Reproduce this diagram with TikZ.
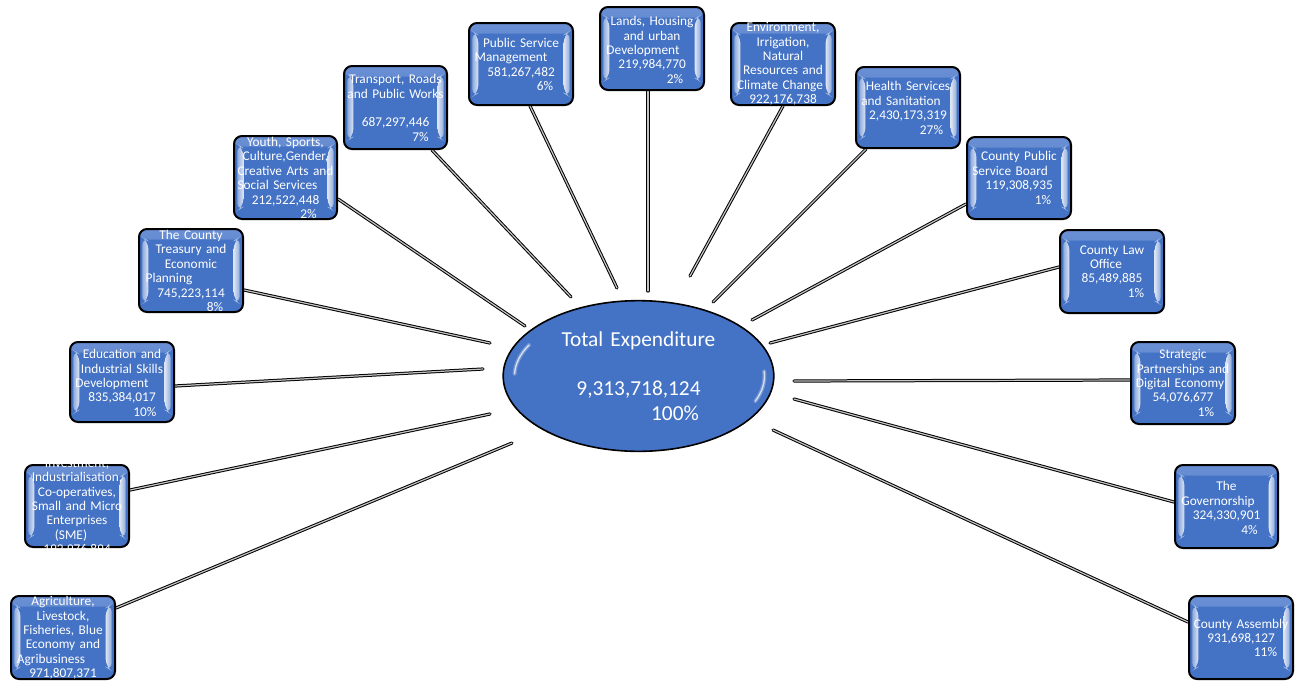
\documentclass[tikz,border=0pt]{standalone}
\usepackage{fontspec}
\setmainfont{Carlito}
\usetikzlibrary{shapes.geometric,calc,backgrounds}

\definecolor{boxblue}{HTML}{4472C4}
\definecolor{boxtop}{HTML}{6A8FD4}
\definecolor{linkgrey}{HTML}{C4C4C4}

% one centred line, moved sideways by #1 px
\newcommand\off[2]{\makebox[0pt]{\kern\dimexpr #1pt*3/2\relax #2}}

% department box: name, centre x, centre y, width, height, text centre y, text
\newcommand\dept[7]{%
  \node[deptbox, minimum width=#4*0.75pt, minimum height=#5*0.75pt] (#1) at (#2,#3) {};
  \begin{scope}
    \clip ([shift={(-3,-3)}]#1.north west) rectangle ([shift={(3,3)}]#1.south east);
    \node[depttext] (#1-text) at (#2,#6) {#7};
  \end{scope}}

\tikzset{
  deptbox/.style={draw=black, line width=1.5pt, rounded corners=6pt, fill=boxblue, inner sep=0pt,
    path picture={
      \shade[top color=boxtop, bottom color=boxblue]
        (path picture bounding box.north west) rectangle ([yshift=-8pt]path picture bounding box.north east);
      \shade[left color=boxblue!60!white, right color=white!82!boxblue]
        ([xshift=2.5pt,yshift=-6pt]path picture bounding box.north west) --
        ([xshift=7pt,yshift=-9pt]path picture bounding box.north west) --
        ([xshift=7pt,yshift=9pt]path picture bounding box.south west) --
        ([xshift=2.5pt,yshift=6pt]path picture bounding box.south west) -- cycle;
      \shade[right color=boxblue!60!white, left color=white!82!boxblue]
        ([xshift=-2.5pt,yshift=-6pt]path picture bounding box.north east) --
        ([xshift=-7pt,yshift=-9pt]path picture bounding box.north east) --
        ([xshift=-7pt,yshift=9pt]path picture bounding box.south east) --
        ([xshift=-2.5pt,yshift=6pt]path picture bounding box.south east) -- cycle;
    }},
  depttext/.style={text=white, font=\fontsize{10pt}{10.8pt}\selectfont, align=center,
    text width=110pt, inner sep=0pt},
  totalnode/.style={ellipse, draw=black, line width=1.2pt, fill=boxblue, inner sep=0pt,
    minimum width=203pt, minimum height=113pt},
  totaltext/.style={text=white, align=center, text width=180pt, inner sep=0pt,
    font=\fontsize{16pt}{18.4pt}\selectfont},
  gloss/.style={draw=white, line cap=round},
  link/.style={draw=black, line width=0.75pt, double=linkgrey, double distance=0.9pt, line cap=round},
}

\begin{document}
\begin{tikzpicture}[x=0.75pt, y=-0.75pt]
\useasboundingbox (0,0) rectangle (1297,683);

% centre
\node[totalnode] (total) at (638.5,376) {};
\draw[gloss, line width=3pt, opacity=.25] ($(total.center)+(182:124 and 66)$)
  arc[start angle=182, end angle=208, x radius=124, y radius=66];
\draw[gloss, line width=1pt, opacity=.7] ($(total.center)+(182:124 and 66)$)
  arc[start angle=182, end angle=208, x radius=124, y radius=66];
\draw[gloss, line width=3pt, opacity=.25] ($(total.center)+(-4:126 and 67)$)
  arc[start angle=-4, end angle=22, x radius=126, y radius=67];
\draw[gloss, line width=1pt, opacity=.7] ($(total.center)+(-4:126 and 67)$)
  arc[start angle=-4, end angle=22, x radius=126, y radius=67];
\node[totaltext] (total-text) at (total.center)
  {Total Expenditure\\\mbox{}\\9,313,718,124\\\off{36.5}{100\%}};

% departments
\dept{edu}{122}{382}{104}{80}{383}{Education and\\Industrial Skills\\\off{-10}{Development}\\835,384,017\\\off{23}{10\%}}
\dept{inv}{77}{506}{104}{82}{507}{Investment,\\Industrialisation,\\Co-operatives,\\Small and Micro\\Enterprises\\\off{-6}{(SME)}\\192,976,894}
\dept{agr}{63}{637.5}{104}{83}{638}{Agriculture,\\Livestock,\\Fisheries, Blue\\Economy and\\\off{-12}{Agribusiness}\\971,807,371}
\dept{tre}{191}{270.5}{104}{83}{271}{The County\\Treasury and\\Economic\\\off{-22}{Planning}\\745,223,114\\\off{24}{8\%}}
\dept{you}{285.5}{177.5}{103}{83}{178}{Youth, Sports,\\Culture,Gender,\\Creative Arts and\\\off{-8}{Social Services}\\212,522,448\\\off{23}{2\%}}
\dept{tra}{395.5}{107.5}{103}{83}{108}{Transport, Roads\\and Public Works\\\mbox{}\\687,297,446\\\off{25}{7\%}}
\dept{psm}{521}{64}{104}{82}{64.5}{Public Service\\\off{-10}{Management}\\581,267,482\\\off{24}{6\%}}
\dept{lan}{652}{48.5}{104}{83}{50}{Lands, Housing\\and urban\\\off{-9}{Development}\\219,984,770\\\off{23}{2\%}}
\dept{env}{783}{64}{104}{82}{64}{Environment,\\Irrigation,\\Natural\\Resources and\\\off{-3}{Climate Change}\\922,176,738}
\dept{hea}{908}{107.5}{104}{81}{108}{Health Services\\\off{-7}{and Sanitation}\\2,430,173,319\\\off{23.5}{27\%}}
\dept{cps}{1019}{178}{104}{82}{178}{County Public\\\off{-9}{Service Board}\\119,308,935\\\off{24}{1\%}}
\dept{law}{1112}{271.5}{104}{83}{271.5}{County Law\\\off{-6}{Office}\\85,489,885\\\off{24}{1\%}}
\dept{str}{1183}{383}{104}{82}{383}{Strategic\\Partnerships and\\\off{-3}{Digital Economy}\\54,076,677\\\off{23}{1\%}}
\dept{gov}{1226.5}{506.5}{103}{83}{508}{The\\\off{-8.5}{Governorship}\\324,330,901\\\off{23}{4\%}}
\dept{asm}{1241}{637.5}{104}{83}{638}{County Assembly\\931,698,127\\\off{24.5}{11\%}}

% free ends of the spokes, short of the ellipse
\coordinate (edu-end) at (483,369);
\coordinate (inv-end) at (490,414);
\coordinate (agr-end) at (512,443);
\coordinate (tre-end) at (490,343);
\coordinate (you-end) at (525,326);
\coordinate (tra-end) at (571,297);
\coordinate (psm-end) at (617,288);
\coordinate (lan-end) at (648,291);
\coordinate (env-end) at (690,276);
\coordinate (hea-end) at (713,302);
\coordinate (cps-end) at (752,320);
\coordinate (law-end) at (770,343);
\coordinate (str-end) at (794,381);
\coordinate (gov-end) at (794,399);
\coordinate (asm-end) at (773,430);

\begin{scope}[on background layer]
  \draw[link] ($(edu.east)+(0,4)$) -- (edu-end);
  \draw[link] ($(inv.east)+(0,-16)$) -- (inv-end);
  \draw[link] ($(agr.east)+(0,-29.5)$) -- (agr-end);
  \draw[link] ($(tre.east)+(0,19.5)$) -- (tre-end);
  \draw[link] ($(you.east)+(0,21.5)$) -- (you-end);
  \draw[link] ($(tra.south)+(36.5,0)$) -- (tra-end);
  \draw[link] ($(psm.south)+(9,0)$) -- (psm-end);
  \draw[link] ($(lan.south)+(-4,0)$) -- (lan-end);
  \draw[link] (env.south) -- (env-end);
  \draw[link] ($(hea.south)+(-42,0)$) -- (hea-end);
  \draw[link] ($(cps.west)+(0,26)$) -- (cps-end);
  \draw[link] ($(law.west)+(0,-4.5)$) -- (law-end);
  \draw[link] ($(str.west)+(0,-3)$) -- (str-end);
  \draw[link] ($(gov.west)+(0,-4.5)$) -- (gov-end);
  \draw[link] ($(asm.west)+(0,-15.5)$) -- (asm-end);
\end{scope}
\end{tikzpicture}
\end{document}
